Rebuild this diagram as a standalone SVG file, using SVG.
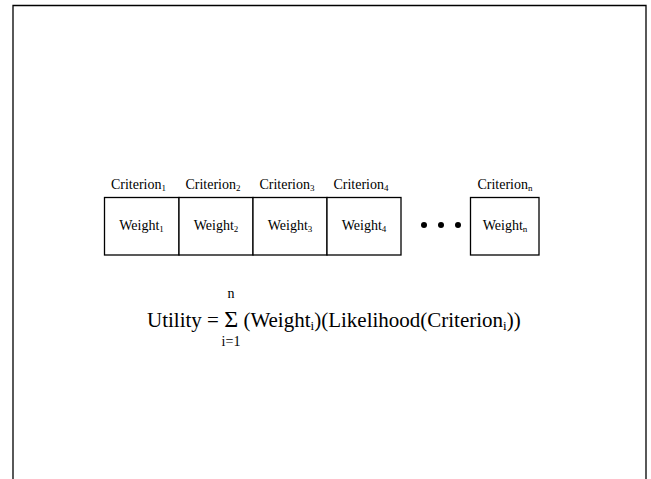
<svg xmlns="http://www.w3.org/2000/svg" width="651" height="479" viewBox="0 0 651 479">
<style>
.box{fill:#fff;stroke:#000;stroke-width:1.3}
.t{font-family:"Liberation Serif",serif;fill:#000}
.s{font-size:14px}
.sub{font-size:9px}
.f{font-size:21px}
</style>
<rect x="0" y="0" width="651" height="479" fill="#fff"/>
<path d="M13,485 V5.5 H646 V485" fill="none" stroke="#000" stroke-width="1.3"/>
<g id="node1"><rect class="box" x="104.5" y="197.5" width="74.5" height="57.5"/>
<text class="t s" x="141.5" y="230" text-anchor="middle">Weight<tspan class="sub" dy="2">1</tspan></text>
<text class="t s" x="138.5" y="189" text-anchor="middle">Criterion<tspan class="sub" dy="2">1</tspan></text></g>
<g id="node2"><rect class="box" x="179" y="197.5" width="74" height="57.5"/>
<text class="t s" x="216" y="230" text-anchor="middle">Weight<tspan class="sub" dy="2">2</tspan></text>
<text class="t s" x="213" y="189" text-anchor="middle">Criterion<tspan class="sub" dy="2">2</tspan></text></g>
<g id="node3"><rect class="box" x="253" y="197.5" width="74" height="57.5"/>
<text class="t s" x="290" y="230" text-anchor="middle">Weight<tspan class="sub" dy="2">3</tspan></text>
<text class="t s" x="287" y="189" text-anchor="middle">Criterion<tspan class="sub" dy="2">3</tspan></text></g>
<g id="node4"><rect class="box" x="327" y="197.5" width="74" height="57.5"/>
<text class="t s" x="364" y="230" text-anchor="middle">Weight<tspan class="sub" dy="2">4</tspan></text>
<text class="t s" x="361" y="189" text-anchor="middle">Criterion<tspan class="sub" dy="2">4</tspan></text></g>
<g id="dots"><circle cx="424" cy="225" r="3"/><circle cx="441" cy="225" r="3"/><circle cx="458" cy="225" r="3"/></g>
<g id="noden"><rect class="box" x="470.5" y="197.5" width="68.5" height="57.5"/>
<text class="t s" x="505" y="230" text-anchor="middle">Weight<tspan class="sub" dy="2">n</tspan></text>
<text class="t s" x="505" y="189" text-anchor="middle">Criterion<tspan class="sub" dy="2">n</tspan></text></g>
<g id="connectors"></g>
<g id="formula">
<text class="t f" x="147" y="327">Utility = <tspan font-size="24">Σ</tspan> (Weight<tspan font-size="13" dy="3">i</tspan><tspan dy="-3">)(Likelihood(Criterion</tspan><tspan font-size="13" dy="3">i</tspan><tspan dy="-3">))</tspan></text>
<text class="t" font-size="14" x="231" y="298" text-anchor="middle">n</text>
<text class="t" font-size="14" x="231" y="346" text-anchor="middle">i=1</text>
</g>
</svg>
